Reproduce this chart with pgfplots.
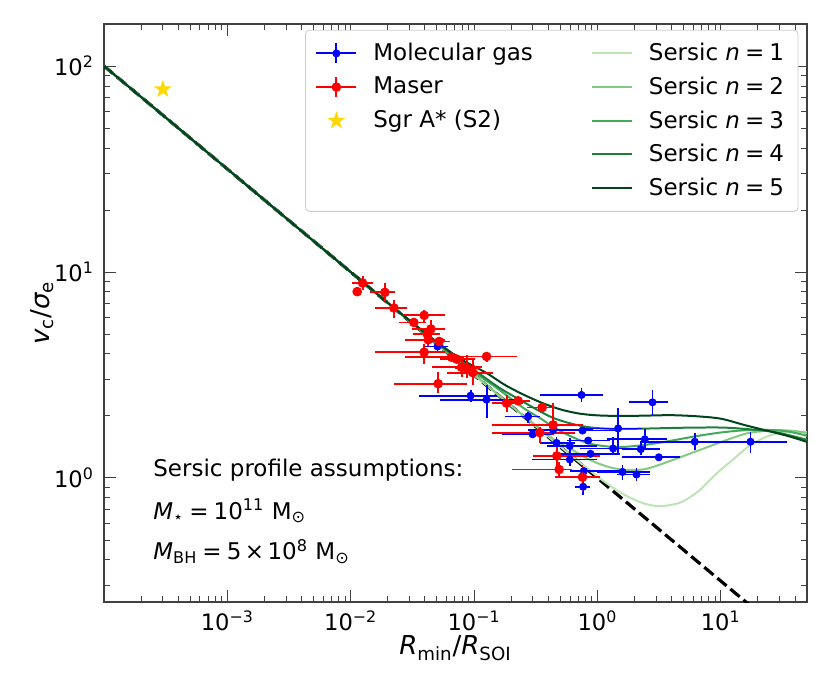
\documentclass[border=0pt]{standalone}
\usepackage{fontspec}
\setmainfont{DejaVu Sans}
\usepackage{pgfplots}
\pgfplotsset{compat=1.18}
\usepackage{pgfplotstable}
\usetikzlibrary{calc}

\definecolor{g1}{HTML}{BCE4B5}
\definecolor{g2}{HTML}{85CA82}
\definecolor{g3}{HTML}{45A95B}
\definecolor{g4}{HTML}{1E7F3D}
\definecolor{g5}{HTML}{00441B}
\definecolor{gold}{HTML}{FFD700}

\pgfdeclareplotmark{fstar}{%
  \pgfpathmoveto{\pgfpointpolar{90}{\pgfplotmarksize}}%
  \pgfpathlineto{\pgfpointpolar{126}{0.382\pgfplotmarksize}}%
  \pgfpathlineto{\pgfpointpolar{162}{\pgfplotmarksize}}%
  \pgfpathlineto{\pgfpointpolar{198}{0.382\pgfplotmarksize}}%
  \pgfpathlineto{\pgfpointpolar{234}{\pgfplotmarksize}}%
  \pgfpathlineto{\pgfpointpolar{270}{0.382\pgfplotmarksize}}%
  \pgfpathlineto{\pgfpointpolar{306}{\pgfplotmarksize}}%
  \pgfpathlineto{\pgfpointpolar{342}{0.382\pgfplotmarksize}}%
  \pgfpathlineto{\pgfpointpolar{18}{\pgfplotmarksize}}%
  \pgfpathlineto{\pgfpointpolar{54}{0.382\pgfplotmarksize}}%
  \pgfpathclose
  \pgfusepathqfill}

\newcommand{\eqsp}{\hspace{0.22em}=\hspace{0.22em}}

% Maser points: x y xlo xhi ylo yhi
\pgfplotstableread{
x y xlo xhi ylo yhi
0.01248 8.85 0.01016 0.01504 8.21 9.53
0.01129 8.03 0.01047 0.01225 7.80 8.30
0.01892 7.97 0.01432 0.02282 7.20 8.88
0.02239 6.69 0.01570 0.02853 6.00 7.34
0.03942 6.16 0.02649 0.05799 5.67 6.56
0.03251 5.69 0.02459 0.04067 5.50 5.90
0.04467 5.29 0.03133 0.05799 4.85 5.87
0.04168 5.01 0.03175 0.05284 4.60 5.37
0.04246 4.69 0.02750 0.05799 4.35 5.06
0.05214 4.60 0.04147 0.06369 4.45 4.75
0.03942 4.08 0.01570 0.05799 3.58 4.48
0.1263 3.89 0.06730 0.2223 3.67 4.10
0.06572 3.86 0.02750 0.08335 3.70 4.00
0.07214 3.78 0.05284 0.1014 3.65 3.92
0.07920 3.45 0.04550 0.1157 3.11 3.75
0.08694 3.42 0.06989 0.1114 3.05 3.97
0.09727 3.25 0.06020 0.1420 2.83 3.75
0.05117 2.87 0.02239 0.08745 2.59 3.28
0.1834 2.31 0.1394 0.2485 2.09 2.53
0.2277 2.37 0.1777 0.2833 2.30 2.44
0.3564 2.20 0.2679 0.4515 2.13 2.27
0.4376 1.81 0.1394 0.7614 1.62 2.32
0.3414 1.66 0.1394 0.6563 1.48 1.77
0.4689 1.28 0.2995 1.046 1.13 1.45
0.4895 1.10 0.2024 0.6214 1.01 1.20
0.7570 1.01 0.4515 1.046 0.855 1.16
}\maserdata

% Molecular gas points
\pgfplotstableread{
x y xlo xhi ylo yhi
0.05058 4.35 0.03992 0.06132 4.05 4.69
0.09366 2.51 0.03570 0.1531 2.34 2.68
0.1263 2.40 0.05284 0.2350 1.96 2.83
0.7431 2.53 0.3414 1.106 2.34 2.74
0.2744 1.99 0.1777 0.3414 1.85 2.09
0.4376 1.71 0.2729 0.9177 1.66 1.76
0.2979 1.63 0.1680 0.4354 1.58 1.68
0.7570 1.70 0.4113 1.519 1.65 1.75
0.4663 1.48 0.3414 0.6563 1.37 1.59
0.5976 1.43 0.3890 0.989 1.22 1.57
0.8409 1.52 0.5650 1.260 1.47 1.57
1.340 1.39 0.7196 2.289 1.29 1.58
0.8791 1.31 0.4958 1.519 1.27 1.35
0.5976 1.23 0.2939 0.989 1.14 1.37
0.7758 1.08 0.5976 1.519 1.05 1.11
0.7658 0.907 0.6563 0.8678 0.827 1.0
2.796 2.33 1.797 3.720 2.02 2.68
1.471 1.74 0.7196 2.289 1.32 2.19
2.422 1.54 1.192 3.650 1.40 1.73
6.155 1.50 2.206 15.65 1.37 1.66
17.41 1.50 6.392 34.26 1.32 1.67
2.247 1.38 1.577 3.204 1.29 1.50
3.145 1.26 1.577 4.653 1.23 1.29
1.597 1.07 0.989 2.658 0.978 1.16
2.075 1.04 1.436 2.658 0.967 1.12
}\moldata

\begin{document}
\begin{tikzpicture}
\begin{axis}[
  xmode=log, ymode=log,
  scale only axis, width=351.5pt, height=289pt,
  xmin=1e-4, xmax=50, ymin=0.25, ymax=160,
  xtick={1e-3,1e-2,1e-1,1,10},
  xticklabels={10\textsuperscript{−3},10\textsuperscript{−2},10\textsuperscript{−1},10\textsuperscript{0},10\textsuperscript{1}},
  ytick={1,10,100},
  yticklabels={10\textsuperscript{0},10\textsuperscript{1},10\textsuperscript{2}},
  minor xtick={2e-4,3e-4,4e-4,5e-4,6e-4,7e-4,8e-4,9e-4,2e-3,3e-3,4e-3,5e-3,6e-3,7e-3,8e-3,9e-3,0.02,0.03,0.04,0.05,0.06,0.07,0.08,0.09,0.2,0.3,0.4,0.5,0.6,0.7,0.8,0.9,2,3,4,5,6,7,8,9,20,30,40},
  minor ytick={0.3,0.4,0.5,0.6,0.7,0.8,0.9,2,3,4,5,6,7,8,9,20,30,40,50,60,70,80,90},
  tick align=inside, major tick length=6pt, minor tick length=2.8pt,
  tick style={black!75, line width=0.5pt},
  axis line style={black!75, line width=0.6pt},
  ticklabel style={font=\fontsize{11.3}{13}\selectfont},
  xticklabel style={yshift=-1pt},
  yticklabel style={xshift=-1.5pt},
  xlabel={{\itshape R}\textsubscript{min}/{\itshape R}\textsubscript{SOI}},
  ylabel={{\itshape v}\textsubscript{c}/{\itshape σ}\textsubscript{e}},
  every axis x label/.style={at={(axis description cs:0.5,-0.08)}, anchor=center, font=\fontsize{13}{15}\selectfont},
  every axis y label/.style={at={(axis description cs:-0.088,0.5)}, rotate=90, anchor=center, font=\fontsize{13}{15}\selectfont},
  legend columns=2,
  legend cell align=left,
  legend style={at={(axis description cs:0.286,0.990)}, anchor=north west,
    draw=black!20, rounded corners=2pt, fill=white,
    font=\fontsize{11.5}{13.5}\selectfont, row sep=2.6pt, inner xsep=5pt, inner ysep=4.5pt,
    /tikz/every odd column/.append style={column sep=6pt},
    /tikz/every even column/.append style={column sep=27pt}},
]
% Keplerian (black hole only)
\addplot[black, line width=1.6pt, dash pattern=on 6pt off 2.5pt, forget plot] coordinates {(1e-4,100) (20,0.2236)};

% Sersic n=1
\addplot[g1, line width=1pt, smooth, forget plot] coordinates {
(1e-4,100)(1e-3,31.62)(0.01,10)(0.1,3.162)(0.5012,1.419)(0.7943,1.135)(1.122,0.966)(1.585,0.841)(2.239,0.762)(3.020,0.731)(3.981,0.741)(5.012,0.773)(6.761,0.875)(9.333,1.057)(12.59,1.230)(17.38,1.445)(23.44,1.585)(31.62,1.667)(39.81,1.683)(50.12,1.667)};
% Sersic n=2
\addplot[g2, line width=1pt, smooth, forget plot] coordinates {
(1e-4,100)(1e-3,31.62)(0.01,10)(0.1,3.184)(0.1995,2.249)(0.3162,1.799)(0.4365,1.549)(0.6310,1.365)(0.8913,1.216)(1.259,1.127)(1.778,1.091)(2.512,1.109)(3.981,1.216)(6.761,1.368)(11.22,1.531)(16.98,1.656)(28.18,1.706)(39.81,1.690)(50.12,1.652)};
% Sersic n=3
\addplot[g3, line width=1pt, smooth, forget plot] coordinates {
(1e-4,100)(1e-3,31.62)(0.01,10)(0.06310,4.018)(0.1,3.273)(0.1585,2.692)(0.2512,2.188)(0.3548,1.928)(0.4365,1.770)(0.6310,1.578)(0.8913,1.462)(1.413,1.413)(2.239,1.439)(3.548,1.500)(6.310,1.596)(10,1.663)(15.85,1.706)(25.12,1.710)(35.48,1.679)(50.12,1.603)};
% Sersic n=4
\addplot[g4, line width=1pt, smooth, forget plot] coordinates {
(1e-4,100)(1e-3,31.62)(0.01,10)(0.03162,5.649)(0.06310,4.074)(0.1,3.350)(0.1585,2.754)(0.2344,2.399)(0.3162,2.163)(0.4365,1.959)(0.6310,1.828)(0.8913,1.758)(1.413,1.730)(2.512,1.738)(5.012,1.754)(10,1.758)(15.85,1.730)(28.18,1.667)(50.12,1.531)};
% Sersic n=5
\addplot[g5, line width=1pt, smooth, forget plot] coordinates {
(1e-4,100)(1e-3,31.62)(0.01,10)(0.02512,6.339)(0.05012,4.571)(0.07943,3.758)(0.1259,3.236)(0.1778,2.831)(0.2512,2.541)(0.3548,2.317)(0.5012,2.153)(0.7079,2.056)(1,2.014)(1.585,2.000)(2.512,2.009)(3.981,2.018)(6.310,1.995)(10,1.941)(15.85,1.803)(25.12,1.683)(35.48,1.596)(50.12,1.496)};

% Molecular gas
\addplot[only marks, mark=*, mark size=1.8pt, blue, forget plot,
  error bars/.cd, x dir=both, x explicit, y dir=both, y explicit, error mark=none,
  error bar style={line width=0.95pt, blue}]
  table[x=x, y=y,
    x error plus expr=\thisrow{xhi}-\thisrow{x}, x error minus expr=\thisrow{x}-\thisrow{xlo},
    y error plus expr=\thisrow{yhi}-\thisrow{y}, y error minus expr=\thisrow{y}-\thisrow{ylo}] {\moldata};
% Maser
\addplot[only marks, mark=*, mark size=2.2pt, red, forget plot,
  error bars/.cd, x dir=both, x explicit, y dir=both, y explicit, error mark=none,
  error bar style={line width=0.95pt, red}]
  table[x=x, y=y,
    x error plus expr=\thisrow{xhi}-\thisrow{x}, x error minus expr=\thisrow{x}-\thisrow{xlo},
    y error plus expr=\thisrow{yhi}-\thisrow{y}, y error minus expr=\thisrow{y}-\thisrow{ylo}] {\maserdata};
% Sgr A*
\addplot[only marks, mark=fstar, mark size=4.8pt, color=gold, forget plot] coordinates {(3.0e-4,77.1)};

% Legend
\addlegendimage{legend image code/.code={\draw[blue,line width=0.95pt] (0pt,0pt)--(20pt,0pt) (10pt,-5pt)--(10pt,5pt); \fill[blue] (10pt,0pt) circle (1.8pt);}}
\addlegendentry{Molecular gas}
\addlegendimage{legend image code/.code={\draw[g1,line width=1pt] (0pt,0pt)--(20pt,0pt);}}
\addlegendentry{Sersic {\itshape n}\eqsp1}
\addlegendimage{legend image code/.code={\draw[red,line width=0.95pt] (0pt,0pt)--(20pt,0pt) (10pt,-5pt)--(10pt,5pt); \fill[red] (10pt,0pt) circle (2.2pt);}}
\addlegendentry{Maser}
\addlegendimage{legend image code/.code={\draw[g2,line width=1pt] (0pt,0pt)--(20pt,0pt);}}
\addlegendentry{Sersic {\itshape n}\eqsp2}
\addlegendimage{legend image code/.code={\draw[gold, mark=fstar, mark size=4.8pt, only marks] plot coordinates {(10pt,0pt)};}}
\addlegendentry{Sgr A* (S2)}
\addlegendimage{legend image code/.code={\draw[g3,line width=1pt] (0pt,0pt)--(20pt,0pt);}}
\addlegendentry{Sersic {\itshape n}\eqsp3}
\addlegendimage{legend image code/.code={}}
\addlegendentry{}
\addlegendimage{legend image code/.code={\draw[g4,line width=1pt] (0pt,0pt)--(20pt,0pt);}}
\addlegendentry{Sersic {\itshape n}\eqsp4}
\addlegendimage{legend image code/.code={}}
\addlegendentry{}
\addlegendimage{legend image code/.code={\draw[g5,line width=1pt] (0pt,0pt)--(20pt,0pt);}}
\addlegendentry{Sersic {\itshape n}\eqsp5}

% Annotation
\node[anchor=base west, font=\fontsize{11.5}{13.5}\selectfont, inner sep=0pt] at (axis description cs:0.0697,0.2163) {Sersic profile assumptions:};
\node[anchor=base west, font=\fontsize{11.5}{13.5}\selectfont, inner sep=0pt] at (axis description cs:0.0697,0.1436) {{\itshape M}\textsubscript{⋆}\eqsp10\textsuperscript{11} M\textsubscript{⊙}};
\node[anchor=base west, font=\fontsize{11.5}{13.5}\selectfont, inner sep=0pt] at (axis description cs:0.0697,0.0727) {{\itshape M}\textsubscript{BH}\eqsp5\hspace{0.15em}×\hspace{0.15em}10\textsuperscript{8} M\textsubscript{⊙}};
\end{axis}
\pgfresetboundingbox
\path[use as bounding box] ($(current axis.south west)+(-52pt,-45pt)$) rectangle ($(current axis.north east)+(11.5pt,12pt)$);
\end{tikzpicture}
\end{document}
